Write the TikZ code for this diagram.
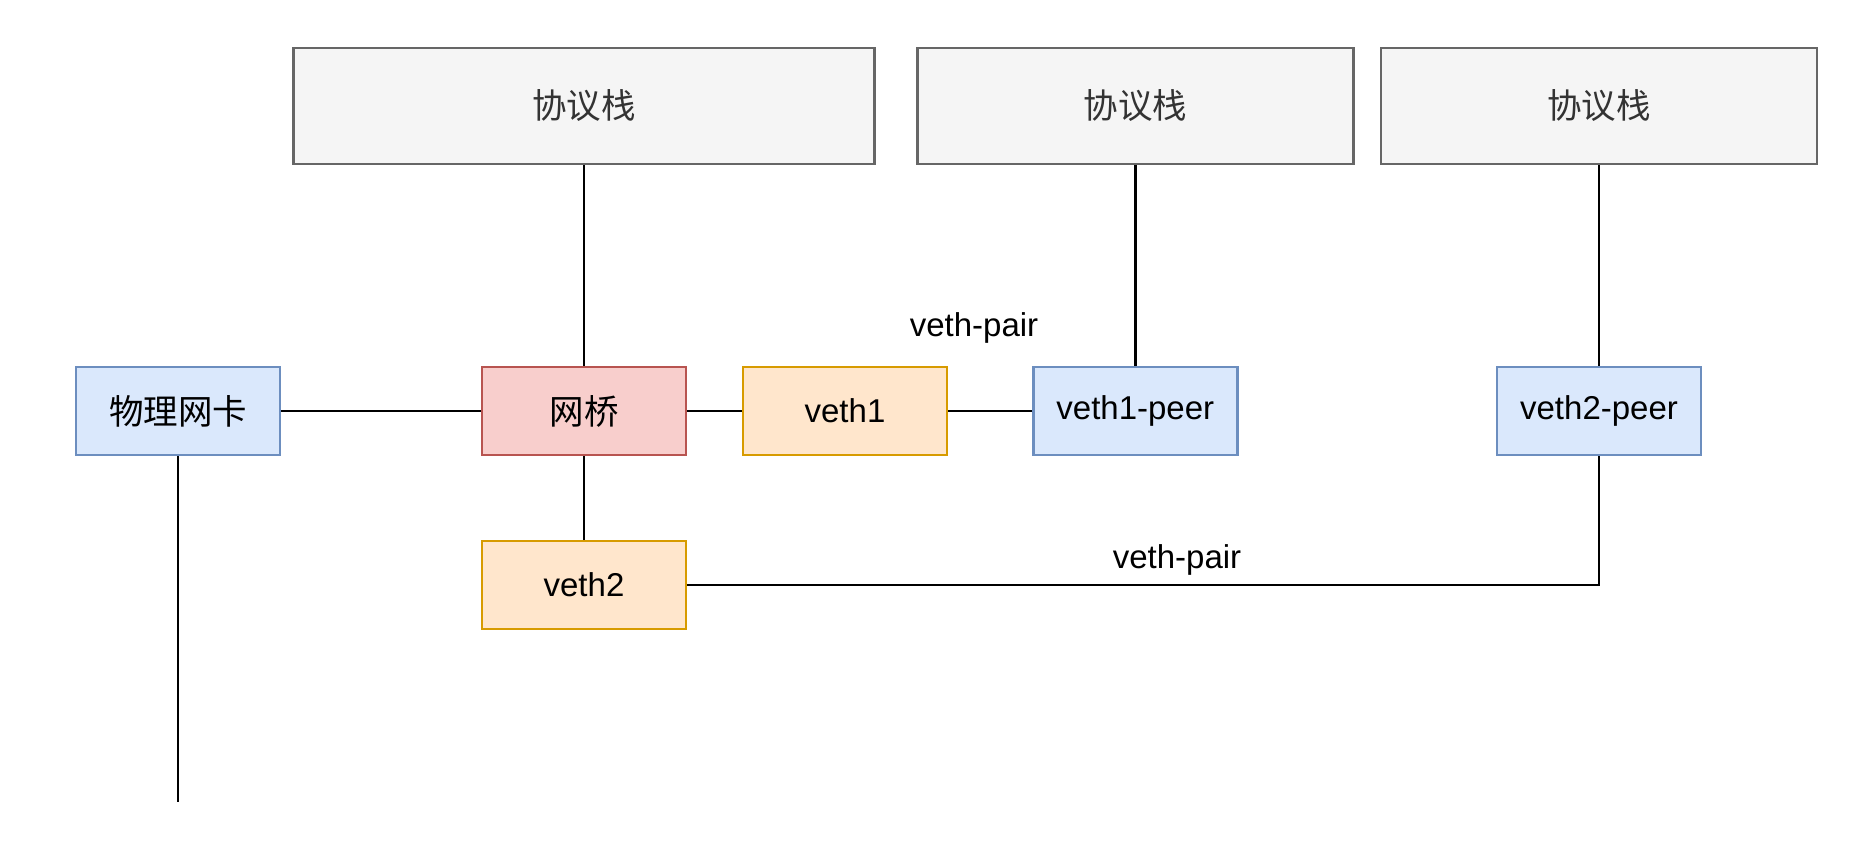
\documentclass[tikz,border=0pt]{standalone}
\usepackage{fontspec}
\setmainfont{Liberation Sans}
\newfontfamily\cjk{Noto Sans CJK SC}
\newcommand\cjkbig{\cjk\fontsize{34.5}{40}\selectfont}
\definecolor{grayfill}{HTML}{F5F5F5}
\definecolor{graydraw}{HTML}{666666}
\definecolor{graytext}{HTML}{333333}
\definecolor{bluefill}{HTML}{DAE8FC}
\definecolor{bluedraw}{HTML}{6C8EBF}
\definecolor{redfill}{HTML}{F8CECC}
\definecolor{reddraw}{HTML}{B85450}
\definecolor{orangefill}{HTML}{FFE6CC}
\definecolor{orangedraw}{HTML}{D79B00}
\begin{document}
\begin{tikzpicture}[x=1pt,y=-1pt,
  base/.style={rectangle, inner sep=0pt, line width=2.8pt, font=\fontsize{33}{40}\selectfont},
  stackbox/.style={base, fill=grayfill, draw=graydraw, text=graytext, minimum width=581pt, minimum height=116pt},
  smallstack/.style={stackbox, minimum width=436pt},
  bluebox/.style={base, fill=bluefill, draw=bluedraw, minimum width=204pt, minimum height=88pt},
  redbox/.style={base, fill=redfill, draw=reddraw, minimum width=204pt, minimum height=88pt},
  orangebox/.style={base, fill=orangefill, draw=orangedraw, minimum width=204pt, minimum height=88pt},
  wire/.style={line width=2.8pt, black},
  lbl/.style={inner sep=0pt, anchor=base, font=\fontsize{33}{40}\selectfont}
]
\useasboundingbox (0,0) rectangle (1870,846);
\fill[white] (0,0) rectangle (1870,846);

\node[stackbox] (s1) at (584,106) {\cjkbig 协议栈};
\node[smallstack] (s2) at (1135.3,106) {\cjkbig 协议栈};
\node[smallstack] (s3) at (1599,106) {\cjkbig 协议栈};

\node[bluebox] (nic) at (178,411) {\cjkbig 物理网卡};
\node[redbox] (br) at (584,411) {\cjkbig 网桥};
\node[orangebox] (v1) at (845,411) {veth1};
\node[bluebox] (p1) at (1135.3,411) {veth1-peer};
\node[bluebox] (p2) at (1599,411) {veth2-peer};
\node[orangebox] (v2) at (584,585) {veth2};
\coordinate (down) at (178,802);

\draw[wire] (s1.south) -- (br.north);
\draw[wire] (s2.south) -- (p1.north);
\draw[wire] (s3.south) -- (p2.north);
\draw[wire] (nic.east) -- (br.west);
\draw[wire] (br.east) -- (v1.west);
\draw[wire] (v1.east) -- (p1.west);
\draw[wire] (br.south) -- (v2.north);
\draw[wire] (v2.east) -| (p2.south);
\draw[wire] (nic.south) -- (down);

\node[lbl] (l1) at (974,336) {veth-pair};
\node[lbl] (l2) at (1177,568) {veth-pair};
\end{tikzpicture}
\end{document}
